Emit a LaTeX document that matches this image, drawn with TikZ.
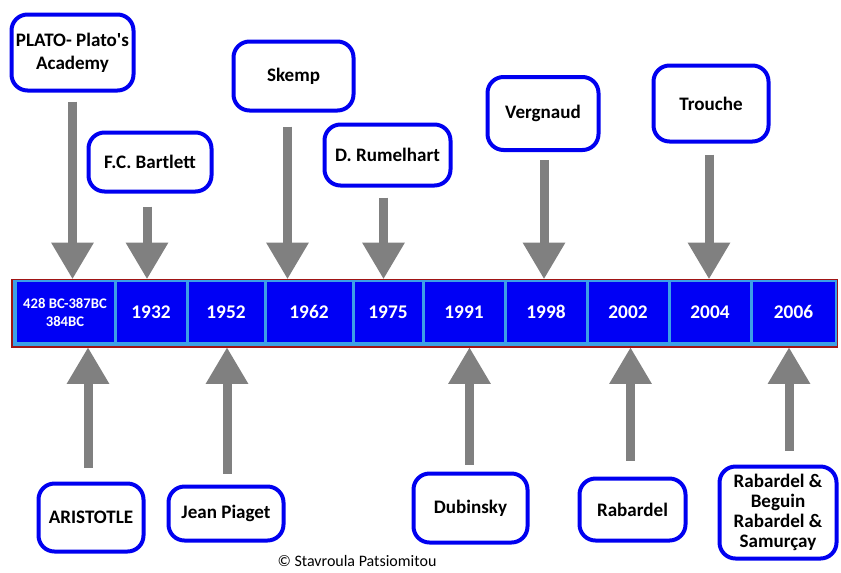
\documentclass[tikz,border=0pt]{standalone}
\usepackage{fontspec}
\setmainfont{Carlito}
\usetikzlibrary{arrows.meta,calc}
\definecolor{boxblue}{RGB}{0,0,240}
\definecolor{cellblue}{RGB}{0,0,245}
\definecolor{celledge}{RGB}{60,160,230}
\definecolor{barred}{RGB}{160,20,20}
\definecolor{arrowgray}{RGB}{128,128,128}
\tikzset{
  namebox/.style={draw=boxblue, line width=3pt, rounded corners=12pt, fill=white, align=center,
    font=\fontsize{14.3}{17}\selectfont\bfseries, inner sep=2pt},
  yearcell/.style={fill=cellblue, text=white, minimum height=44.5pt, inner sep=0pt, align=center},
  timearrow/.style={draw=arrowgray, line width=6.75pt,
    -{Triangle[length=27pt,width=32pt,line width=0pt,fill=arrowgray]}},
}
\begin{document}
\begin{tikzpicture}[x=0.75pt,y=-0.75pt]
\useasboundingbox (0,0) rectangle (841,572);

\node[draw=barred, line width=1.2pt, fill=celledge, minimum width=619pt, minimum height=50.6pt, inner sep=0pt] (bar) at (424.75,313.25) {};
\foreach \l/\r/\fs/\yr [count=\i] in {15/115/11/{428 BC-387BC\\384BC},115/187/14.5/1932,187/265/14.5/1952,
  265/353/14.5/1962,353/423/14.5/1975,423/505/14.5/1991,505/587/14.5/1998,587/669/14.5/2002,669/751/14.5/2004,751/836/14.5/2006}
{
	\node[yearcell, font=\fontsize{\fs}{13.5}\selectfont\bfseries, minimum width={(\r-\l-3)*0.75pt}] (y\i) at ({(\l+\r)/2},312) {\yr};
}

\foreach \nm/\x/\y/\w/\h/\txt in {
  plato/72.5/52.5/122/76/{PLATO- Plato\textquotesingle s\\Academy},
  bartlett/150/162/123/59/F.C. Bartlett,
  skemp/293.5/76/120/69/Skemp,
  rumelhart/387.5/155/126/61/D. Rumelhart,
  vergnaud/543/113.5/111/73/Vergnaud,
  trouche/711/103.5/115/76/Trouche,
  aristotle/91/517.5/105/68/ARISTOTLE,
  piaget/226/513.5/115/54/Jean Piaget,
  dubinsky/470.5/508/114/69/Dubinsky,
  rabardel/632.5/509.5/106/62/Rabardel,
  rabsam/778/512.5/117/92/{Rabardel \&\\[-2pt]Beguin\\[-2pt]Rabardel \&\\[-2pt]Samurçay}}
{
	\node[namebox, minimum width=\w*0.75pt, minimum height=\h*0.75pt] (\nm) at (\x,\y) {\txt};
}

% arrows down to the bar
\foreach \nm/\dx/\gap in {plato/0/9,bartlett/-3/13,skemp/-6/14,rumelhart/-4/10,vergnaud/1/8,trouche/-2/11}
{
	\coordinate (\nm-s) at ($(\nm.south)+(\dx,\gap)$);
	\draw[timearrow] (\nm-s) -- (\nm-s |- bar.north);
}
% arrows up to the bar
\foreach \nm/\dx/\gap in {aristotle/-3/14,piaget/1/11,dubinsky/-1/7,rabardel/-2/16,rabsam/11/14}
{
	\coordinate (\nm-s) at ($(\nm.north)+(\dx,-\gap)$);
	\draw[timearrow] (\nm-s) -- (\nm-s |- bar.south);
}

\node[font=\fontsize{12}{14}\selectfont, inner sep=0pt] (credit) at (357,561) {© Stavroula Patsiomitou};
\end{tikzpicture}
\end{document}
